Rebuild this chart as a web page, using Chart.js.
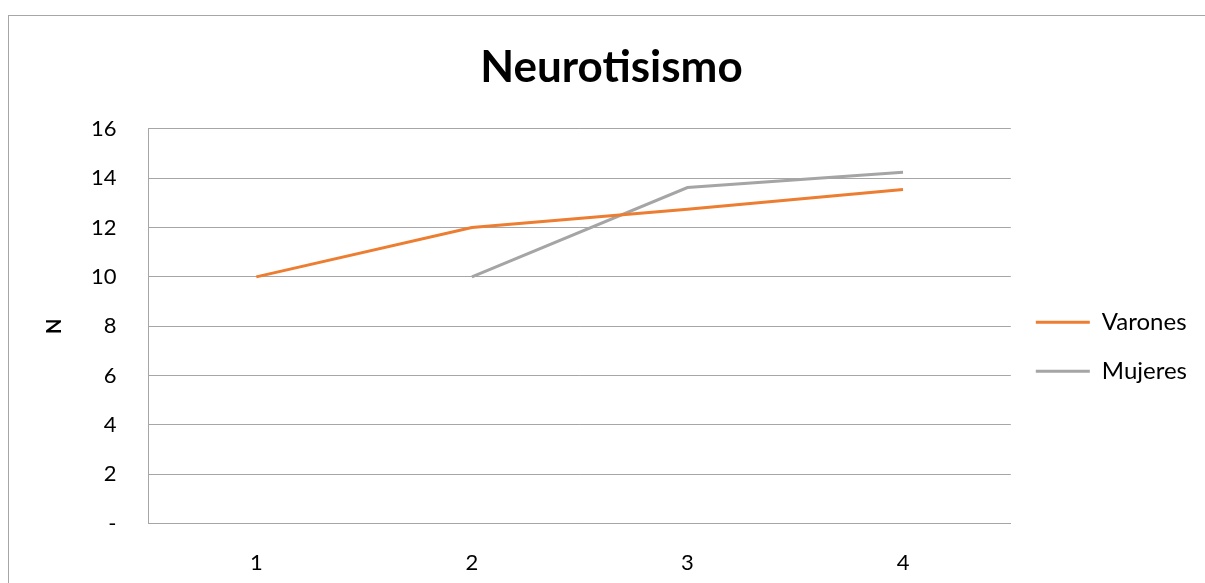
<!DOCTYPE html>
<html lang="es">
<head>
<meta charset="UTF-8">
<title>Neurotisismo</title>
<script src="https://cdn.jsdelivr.net/npm/chart.js"></script>
<style>
  html, body { margin: 0; padding: 0; background: #fff; }
  #wrap { position: relative; width: 1205px; height: 583px; overflow: hidden; }
  #frame { position: absolute; left: 8px; top: 15px; width: 1300px; height: 700px;
           border-left: 1.5px solid #a6a6a6; border-top: 1.5px solid #a6a6a6; }
  canvas { position: absolute; left: 0; top: 0; }
</style>
</head>
<body>
<div id="wrap">
  <div id="frame"></div>
  <canvas id="chart" width="1205" height="583"></canvas>
</div>
<script>
// data
const categories = ["1", "2", "3", "4"];
const varones = [10, 12, 12.74, 13.54];
const mujeres = [null, 10, 13.62, 14.24];

const FONT = "Lato, 'Open Sans', sans-serif";

new Chart(document.getElementById("chart"), {
  type: "line",
  data: {
    labels: categories,
    datasets: [
      {
        label: "Varones",
        data: varones,
        borderColor: "#ED7D31",
        backgroundColor: "#ED7D31",
        borderWidth: 3,
        pointRadius: 0,
        tension: 0
      },
      {
        label: "Mujeres",
        data: mujeres,
        borderColor: "#A5A5A5",
        backgroundColor: "#A5A5A5",
        borderWidth: 3,
        pointRadius: 0,
        tension: 0
      }
    ]
  },
  options: {
    responsive: false,
    animation: false,
    layout: { padding: { left: 26, right: 8, top: 0, bottom: -19 } },
    plugins: {
      tooltip: { enabled: false },
      title: {
        display: true,
        text: "Neurotisismo",
        color: "#000",
        font: { family: FONT, size: 44, weight: "bold" },
        padding: { top: 41, bottom: 35 }
      },
      legend: {
        position: "right",
        title: { display: true, text: "", padding: { top: 77 } },
        labels: {
          usePointStyle: true,
          pointStyle: "line",
          pointStyleWidth: 54,
          color: "#000",
          font: { family: FONT, size: 24 },
          padding: 25
        }
      }
    },
    scales: {
      x: {
        offset: true,
        grid: { display: false, drawTicks: false },
        border: { display: true, color: "#a6a6a6", width: 1 },
        ticks: {
          color: "#000",
          padding: 26,
          font: { family: FONT, size: 22 }
        }
      },
      y: {
        min: 0,
        max: 16,
        grid: { color: "#a6a6a6", lineWidth: 1, drawTicks: false },
        border: { display: true, color: "#a6a6a6", width: 1 },
        ticks: {
          stepSize: 2,
          color: "#000",
          padding: 32,
          font: { family: FONT, size: 22 },
          callback: (v) => (v === 0 ? "-" : v)
        },
        title: {
          display: true,
          text: "N",
          color: "#000",
          font: { family: FONT, size: 20, weight: "bold" },
          padding: { top: 17, bottom: -8 }
        }
      }
    }
  }
});
</script>
</body>
</html>
